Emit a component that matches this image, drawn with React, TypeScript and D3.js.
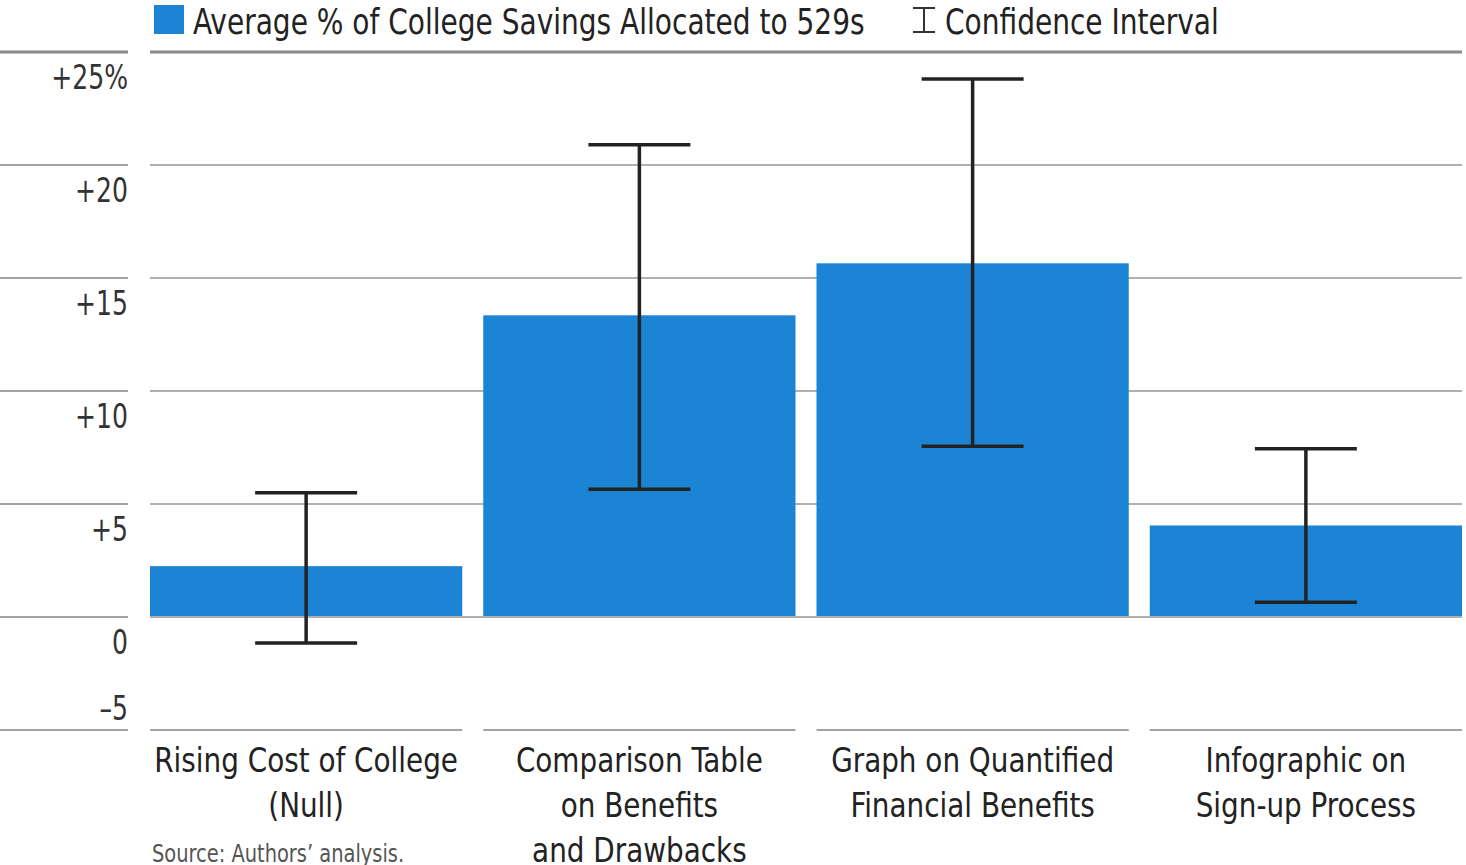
import { useEffect, useRef } from "react";
import * as d3 from "d3";

const categories = [
  ["Rising Cost of College", "(Null)"],
  ["Comparison Table", "on Benefits", "and Drawbacks"],
  ["Graph on Quantified", "Financial Benefits"],
  ["Infographic on", "Sign-up Process"],
];
const averages = [2.25, 13.35, 15.65, 4.05];
const ciLow = [-1.15, 5.65, 7.55, 0.65];
const ciHigh = [5.5, 20.9, 23.8, 7.45];
const yTicks = [25, 20, 15, 10, 5, 0, -5];
const yTickLabels = ["+25%", "+20", "+15", "+10", "+5", "0", "\u20135"];

const FONT = "'DejaVu Sans Condensed', 'Liberation Sans Narrow', sans-serif";
const BLUE = "#1c84d4";

// squeeze text horizontally to imitate a narrow font
function condense(sel: d3.Selection<SVGTextElement, unknown, null, undefined>, k: number) {
  const node = sel.node();
  if (!node) return sel;
  const w = node.getComputedTextLength();
  return sel.attr("textLength", w * k).attr("lengthAdjust", "spacingAndGlyphs");
}

export default function App() {
  const svgRef = useRef<SVGSVGElement>(null);

  useEffect(() => {
    if (!svgRef.current) return;
    const W = 1466;
    const H = 865;
    const svg = d3.select(svgRef.current).attr("width", W).attr("height", H);
    svg.selectAll("*").remove();

    const left = 150;
    const right = 1462;

    const x = d3
      .scaleBand<number>()
      .domain(d3.range(categories.length))
      .range([left, right])
      .paddingInner(0.063)
      .paddingOuter(0);

    const y = d3.scaleLinear().domain([-5, 25]).range([730, 52]);

    // Gridlines + tick labels
    yTicks.forEach((t, i) => {
      const isTop = i === 0;
      const color = isTop ? "#8a8a8a" : "#b0b0b0";
      const sw = isTop ? 3 : 2;
      svg
        .append("line")
        .attr("x1", 0)
        .attr("x2", 128)
        .attr("y1", y(t))
        .attr("y2", y(t))
        .attr("stroke", isTop ? "#8a8a8a" : "#a4a4a4")
        .attr("stroke-width", sw);
      if (t === -5) {
        categories.forEach((_, j) => {
          svg
            .append("line")
            .attr("x1", x(j)!)
            .attr("x2", x(j)! + x.bandwidth())
            .attr("y1", y(t))
            .attr("y2", y(t))
            .attr("stroke", "#a4a4a4")
            .attr("stroke-width", 2);
        });
      } else {
        svg
          .append("line")
          .attr("x1", left)
          .attr("x2", right)
          .attr("y1", y(t))
          .attr("y2", y(t))
          .attr("stroke", color)
          .attr("stroke-width", sw);
      }
      const lbl = svg
        .append("text")
        .attr("x", 128)
        .attr("y", t === -5 ? y(t) - 10 : y(t) + 37)
        .attr("text-anchor", "end")
        .style("font-family", FONT)
        .style("font-size", "34px")
        .attr("fill", "#333")
        .text(yTickLabels[i]);
      condense(lbl, 0.82);
    });

    // Bars
    svg
      .selectAll("rect.bar")
      .data(averages)
      .join("rect")
      .attr("class", "bar")
      .attr("x", (_, i) => x(i)!)
      .attr("width", x.bandwidth())
      .attr("y", (d) => y(Math.max(0, d)))
      .attr("height", (d) => Math.abs(y(d) - y(0)))
      .attr("fill", BLUE);

    // Zero line over bars
    svg
      .append("line")
      .attr("x1", left)
      .attr("x2", right)
      .attr("y1", y(0))
      .attr("y2", y(0))
      .attr("stroke", "#b0b0b0")
      .attr("stroke-width", 2);

    // Error bars
    const capHalf = 51;
    const eg = svg.append("g").attr("stroke", "#222").attr("stroke-width", 3.5);
    averages.forEach((_, i) => {
      const cx = x(i)! + x.bandwidth() / 2;
      eg.append("line").attr("x1", cx).attr("x2", cx).attr("y1", y(ciHigh[i])).attr("y2", y(ciLow[i]));
      eg.append("line").attr("x1", cx - capHalf).attr("x2", cx + capHalf).attr("y1", y(ciHigh[i])).attr("y2", y(ciHigh[i]));
      eg.append("line").attr("x1", cx - capHalf).attr("x2", cx + capHalf).attr("y1", y(ciLow[i])).attr("y2", y(ciLow[i]));
    });

    // Category labels
    categories.forEach((lines, i) => {
      const cx = x(i)! + x.bandwidth() / 2;
      lines.forEach((ln, k) => {
        const t = svg
          .append("text")
          .attr("x", cx)
          .attr("y", 772 + k * 45)
          .attr("text-anchor", "middle")
          .style("font-family", FONT)
          .style("font-size", "34px")
          .attr("fill", "#222")
          .text(ln);
        condense(t, 0.91);
      });
    });

    // Source
    const src = svg
      .append("text")
      .attr("x", 152)
      .attr("y", 862)
      .style("font-family", FONT)
      .style("font-size", "24px")
      .attr("fill", "#555")
      .text("Source: Authors\u2019 analysis.");
    condense(src, 0.9);

    // Legend
    svg.append("rect").attr("x", 154).attr("y", 5).attr("width", 30).attr("height", 29).attr("fill", BLUE);
    const l1 = svg
      .append("text")
      .attr("x", 193)
      .attr("y", 34)
      .style("font-family", FONT)
      .style("font-size", "35px")
      .attr("fill", "#222")
      .text("Average % of College Savings Allocated to 529s");
    condense(l1, 0.89);
    const lg = svg.append("g").attr("stroke", "#333").attr("stroke-width", 2);
    lg.append("line").attr("x1", 924).attr("x2", 924).attr("y1", 8).attr("y2", 32);
    lg.append("line").attr("x1", 913).attr("x2", 935).attr("y1", 8).attr("y2", 8);
    lg.append("line").attr("x1", 913).attr("x2", 935).attr("y1", 32).attr("y2", 32);
    const l2 = svg
      .append("text")
      .attr("x", 945)
      .attr("y", 34)
      .style("font-family", FONT)
      .style("font-size", "35px")
      .attr("fill", "#222")
      .text("Confidence Interval");
    condense(l2, 0.89);
  }, []);

  return (
    <div style={{ position: "absolute", left: 0, top: 0 }}>
      <svg ref={svgRef} style={{ display: "block" }} />
    </div>
  );
}
